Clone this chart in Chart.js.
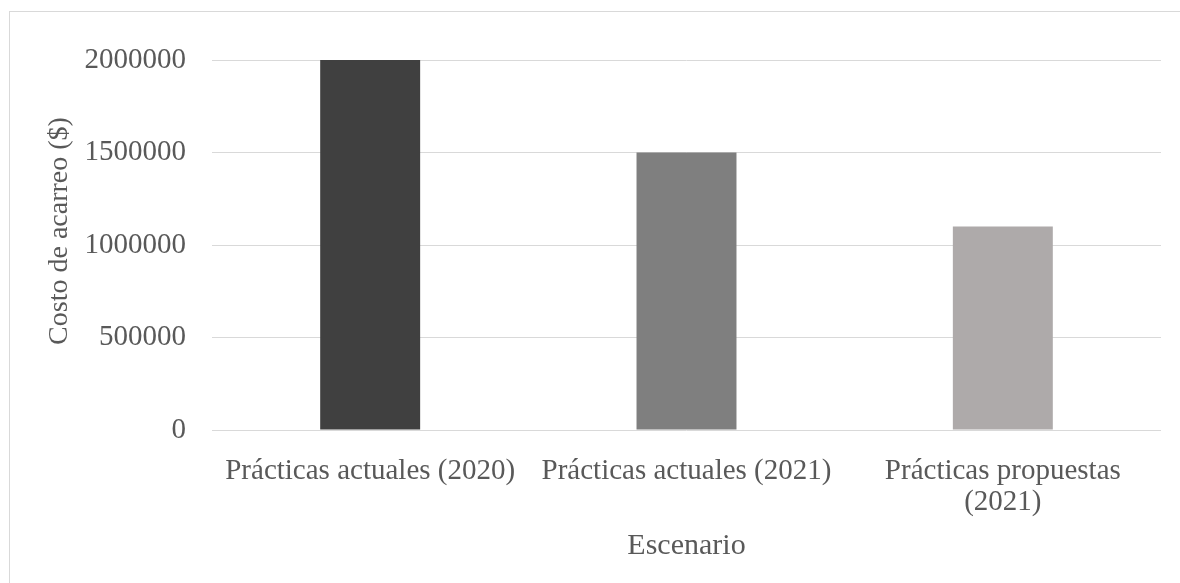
<!DOCTYPE html>
<html>
<head>
<meta charset="utf-8">
<script src="https://cdn.jsdelivr.net/npm/chart.js@4/dist/chart.umd.min.js"></script>
<style>
  html, body { margin: 0; padding: 0; background: #ffffff; }
  body { width: 1180px; height: 583px; position: relative; overflow: hidden; }
  #frame {
    position: absolute; left: 9px; top: 11px; width: 1200px; height: 620px;
    border: 1px solid #d9d9d9; box-sizing: border-box;
  }
  #chart { position: absolute; left: 0; top: 0; }
</style>
</head>
<body>
<div id="frame"></div>
<canvas id="chart" width="1180" height="583"></canvas>
<script>
// Escenarios comparados y su costo de acarreo
const categories = [
  'Prácticas actuales (2020)',
  'Prácticas actuales (2021)',
  ['Prácticas propuestas', '(2021)']
];
const costValues = [2000000, 1500000, 1100000];
const barColors = ['#404040', '#7f7f7f', '#aeaaaa'];
const yTicks = [0, 500000, 1000000, 1500000, 2000000];

const textColor = '#595959';
const gridColor = '#d9d9d9';
const serif = "'Liberation Serif', 'Times New Roman', serif";

new Chart(document.getElementById('chart'), {
  type: 'bar',
  data: {
    labels: categories,
    datasets: [{
      data: costValues,
      backgroundColor: barColors,
      borderWidth: 0,
      categoryPercentage: 1,
      barPercentage: 0.316
    }]
  },
  options: {
    responsive: false,
    animation: false,
    devicePixelRatio: 1,
    layout: { padding: { left: 0, right: 19, top: 60, bottom: 0 } },
    plugins: { legend: { display: false }, tooltip: { enabled: false } },
    scales: {
      x: {
        grid: { display: false },
        border: { display: false },
        ticks: {
          color: textColor,
          font: { family: serif, size: 29, lineHeight: 1.1 },
          padding: 17,
          maxRotation: 0,
          autoSkip: false
        },
        title: {
          display: true,
          text: 'Escenario',
          color: textColor,
          font: { family: serif, size: 30, lineHeight: 1 },
          padding: { top: 0, bottom: 22 }
        },
        afterFit: (axis) => { axis.height = 153; }
      },
      y: {
        min: 0,
        max: 2000000,
        afterBuildTicks: (axis) => { axis.ticks = yTicks.map(v => ({ value: v })); },
        grid: { color: gridColor, lineWidth: 1, drawTicks: false },
        border: { display: false },
        ticks: {
          color: textColor,
          font: { family: serif, size: 29 },
          padding: 26,
          callback: (v) => String(v)
        },
        title: {
          display: true,
          // leading spaces lift the rotated title slightly above the axis centre
          text: '\u00a0\u00a0\u00a0\u00a0Costo de acarreo ($)',
          color: textColor,
          font: { family: serif, size: 28, lineHeight: 1.2 },
          padding: { top: 43, bottom: 0 }
        },
        afterFit: (axis) => { axis.width = 212; }
      }
    }
  }
});
</script>
</body>
</html>
